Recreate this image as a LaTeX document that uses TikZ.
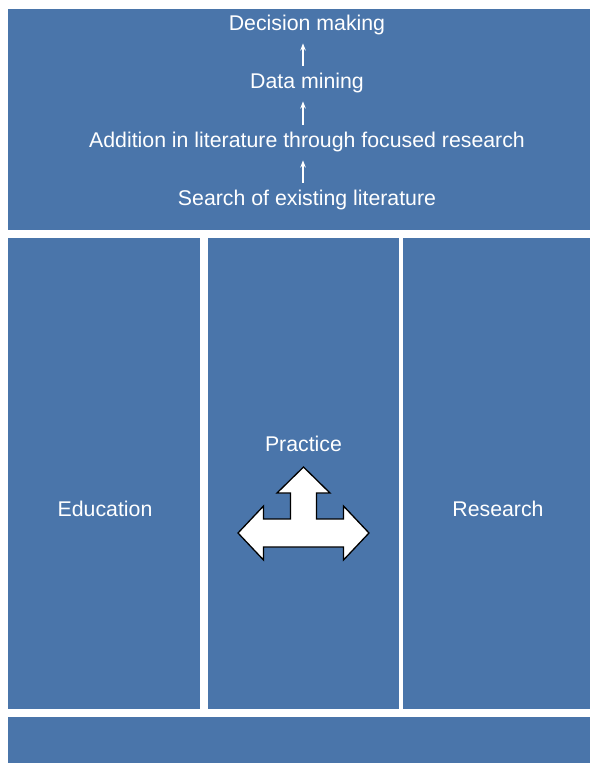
\documentclass[tikz,border=0pt]{standalone}
\usepackage{fontspec}
\setmainfont{Liberation Sans}
\usetikzlibrary{arrows.meta}
\definecolor{panelblue}{HTML}{4A75AA}

\begin{document}
\begin{tikzpicture}[x=1pt, y=-1pt,
        label/.style={text=white, font=\fontsize{21.3}{24}\selectfont},
        flow/.style={white, line width=1.2pt, -{Stealth[length=7pt,width=5.5pt]}, shorten <=4pt, shorten >=5pt}]
        \useasboundingbox (0,0) rectangle (590,763);

        \fill[panelblue] (8,9) rectangle (590,230);
        \node[label] (decision) at (307,25) {Decision making};
        \node[label] (mining) at (307,83) {Data mining};
        \node[label] (addition) at (307,142) {Addition in literature through focused research};
        \node[label] (search) at (307,200) {Search of existing literature};
        \draw[flow] ([xshift=-4pt]search.north) -- ([xshift=-4pt]addition.south);
        \draw[flow] ([xshift=-4pt]addition.north) -- ([xshift=-4pt]mining.south);
        \draw[flow] ([xshift=-4pt]mining.north) -- ([xshift=-4pt]decision.south);

        \fill[panelblue] (8,238) rectangle (200,709);
        \node[label] (education) at (105,509) {Education};
        \fill[panelblue] (208,238) rectangle (399,709);
        \node[label] (practice) at (303.5,444) {Practice};
        \fill[panelblue] (403,238) rectangle (590,709);
        \node[label] (research) at (498,509) {Research};

        \fill[panelblue] (8,717) rectangle (590,763);

        % three-way arrow
        \filldraw[fill=white, draw=black, line width=1.3pt, line join=miter, shift={(303.5,533)}]
            (0,-66) -- (26.5,-40) -- (13,-40) -- (13,-14) -- (40,-14) -- (40,-27)
            -- (65.5,0) -- (40,27) -- (40,14) -- (-40,14) -- (-40,27) -- (-65.5,0)
            -- (-40,-27) -- (-40,-14) -- (-13,-14) -- (-13,-40) -- (-26.5,-40) -- cycle;
\end{tikzpicture}
\end{document}
